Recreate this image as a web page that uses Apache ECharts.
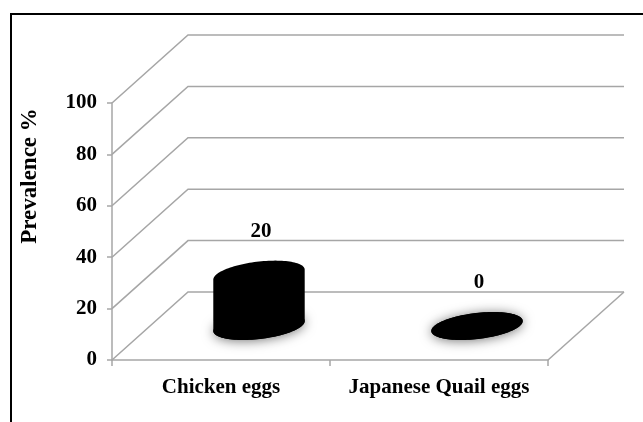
<!DOCTYPE html>
<html>
<head>
<meta charset="utf-8">
<script src="https://cdn.jsdelivr.net/npm/echarts@6/dist/echarts.min.js"></script>
<style>
  html, body { margin: 0; padding: 0; background: #ffffff; }
  #chart { width: 643px; height: 422px; }
</style>
</head>
<body>
<div id="chart"></div>
<script>
// Prevalence by egg type
const categories = ['Chicken eggs', 'Japanese Quail eggs'];
const prevalence = [20, 0];
const yTicks = [0, 20, 40, 60, 80, 100];

const FONT_FAMILY = '"Liberation Serif", "Times New Roman", serif';
const GRAY = '#a6a6a6';
// receding offset of the back wall / floor (pseudo 3D)
const DEPTH_X = 76;
const DEPTH_Y = 68;
// cylinder footprint
const RX = 46;
const RY = 13;
const TILT = -6.7 * Math.PI / 180;

function ellipsePoint(cx, cy, t) {
  const c = Math.cos(TILT), s = Math.sin(TILT);
  return [
    cx + RX * Math.cos(t) * c - RY * Math.sin(t) * s,
    cy + RX * Math.cos(t) * s + RY * Math.sin(t) * c
  ];
}
function arc(cx, cy, tFrom, tTo, n) {
  const pts = [];
  for (let i = 0; i <= n; i++) pts.push(ellipsePoint(cx, cy, tFrom + (tTo - tFrom) * i / n));
  return pts;
}

const chart = echarts.init(document.getElementById('chart'), null, { renderer: 'canvas' });

// back wall, grid lines and floor
function renderWalls(params, api) {
  const cs = params.coordSys;
  const y = api.coord([0, api.value(1)])[1];
  const x0 = cs.x, x1 = cs.x + cs.width;
  const lineStyle = { stroke: GRAY, lineWidth: 1.5, fill: null };
  const children = [{
    type: 'polyline',
    shape: { points: [[x0, y], [x0 + DEPTH_X, y - DEPTH_Y], [x1 + DEPTH_X, y - DEPTH_Y]] },
    style: lineStyle
  }];
  if (api.value(1) === 0) {
    children.push({
      type: 'line',
      shape: { x1: x1, y1: y, x2: x1 + DEPTH_X, y2: y - DEPTH_Y },
      style: lineStyle
    });
  }
  return { type: 'group', children: children };
}

// cylinders standing mid-depth on the floor
function renderCylinder(params, api) {
  const idx = api.value(0);
  const val = api.value(1);
  const base = api.coord([idx, 0]);
  const top = api.coord([idx, val]);
  const cx = base[0] + DEPTH_X / 2;
  const by = base[1] - DEPTH_Y / 2;
  const ty = top[1] - DEPTH_Y / 2;

  const tExt = Math.atan(-(RY * Math.sin(TILT)) / (RX * Math.cos(TILT)));
  // silhouette: lower arc of the base, upper arc of the top face
  const outline = arc(cx, by, tExt + Math.PI, tExt, 60)
    .concat(arc(cx, ty, tExt, tExt - Math.PI, 60));

  const children = [
    {
      type: 'polygon',
      shape: { points: arc(cx, by, 0, Math.PI * 2, 96) },
      style: { fill: '#000', shadowBlur: 12, shadowColor: 'rgba(0,0,0,0.55)', shadowOffsetY: 1 }
    },
    {
      type: 'polygon',
      shape: { points: outline },
      style: { fill: '#000' }
    }
  ];
  children.push({
    type: 'text',
    x: cx + 2,
    y: ty - 43,
    style: {
      text: String(val),
      font: 'bold 21px ' + FONT_FAMILY,
      fill: '#000',
      align: 'center',
      verticalAlign: 'middle'
    }
  });
  return { type: 'group', children: children };
}

chart.setOption({
  animation: false,
  backgroundColor: '#ffffff',
  grid: { left: 112, right: 95, top: 103, bottom: 62, containLabel: false },
  xAxis: {
    type: 'category',
    data: categories,
    boundaryGap: true,
    axisLine: { show: true, lineStyle: { color: GRAY, width: 1.5 } },
    axisTick: { show: true, length: 6, alignWithLabel: false, lineStyle: { color: GRAY, width: 1.5 } },
    axisLabel: { interval: 0, margin: 17, color: '#000', fontFamily: FONT_FAMILY, fontWeight: 'bold', fontSize: 21 },
    splitLine: { show: false }
  },
  yAxis: {
    type: 'value',
    min: 0,
    max: 100,
    interval: 20,
    axisLine: { show: true, lineStyle: { color: GRAY, width: 1.5 } },
    axisTick: { show: true, length: 5, lineStyle: { color: GRAY, width: 1.5 } },
    axisLabel: { margin: 15, color: '#000', fontFamily: FONT_FAMILY, fontWeight: 'bold', fontSize: 21 },
    splitLine: { show: false }
  },
  graphic: [
    {
      type: 'polyline',
      shape: { points: [[11, 430], [11, 14], [650, 14]] },
      style: { stroke: '#000', lineWidth: 2, fill: null },
      silent: true
    },
    {
      type: 'text',
      x: 30,
      y: 176,
      rotation: Math.PI / 2,
      style: {
        text: 'Prevalence %',
        font: 'bold 23px ' + FONT_FAMILY,
        fill: '#000',
        align: 'center',
        verticalAlign: 'middle'
      },
      silent: true
    }
  ],
  series: [
    {
      type: 'custom',
      name: 'walls',
      clip: false,
      silent: true,
      z: 1,
      data: yTicks.map(v => [0, v]),
      encode: { x: 0, y: 1 },
      renderItem: renderWalls
    },
    {
      type: 'custom',
      name: 'Prevalence %',
      clip: false,
      z: 3,
      data: prevalence.map((v, i) => [i, v]),
      encode: { x: 0, y: 1 },
      renderItem: renderCylinder
    }
  ]
});
</script>
</body>
</html>
